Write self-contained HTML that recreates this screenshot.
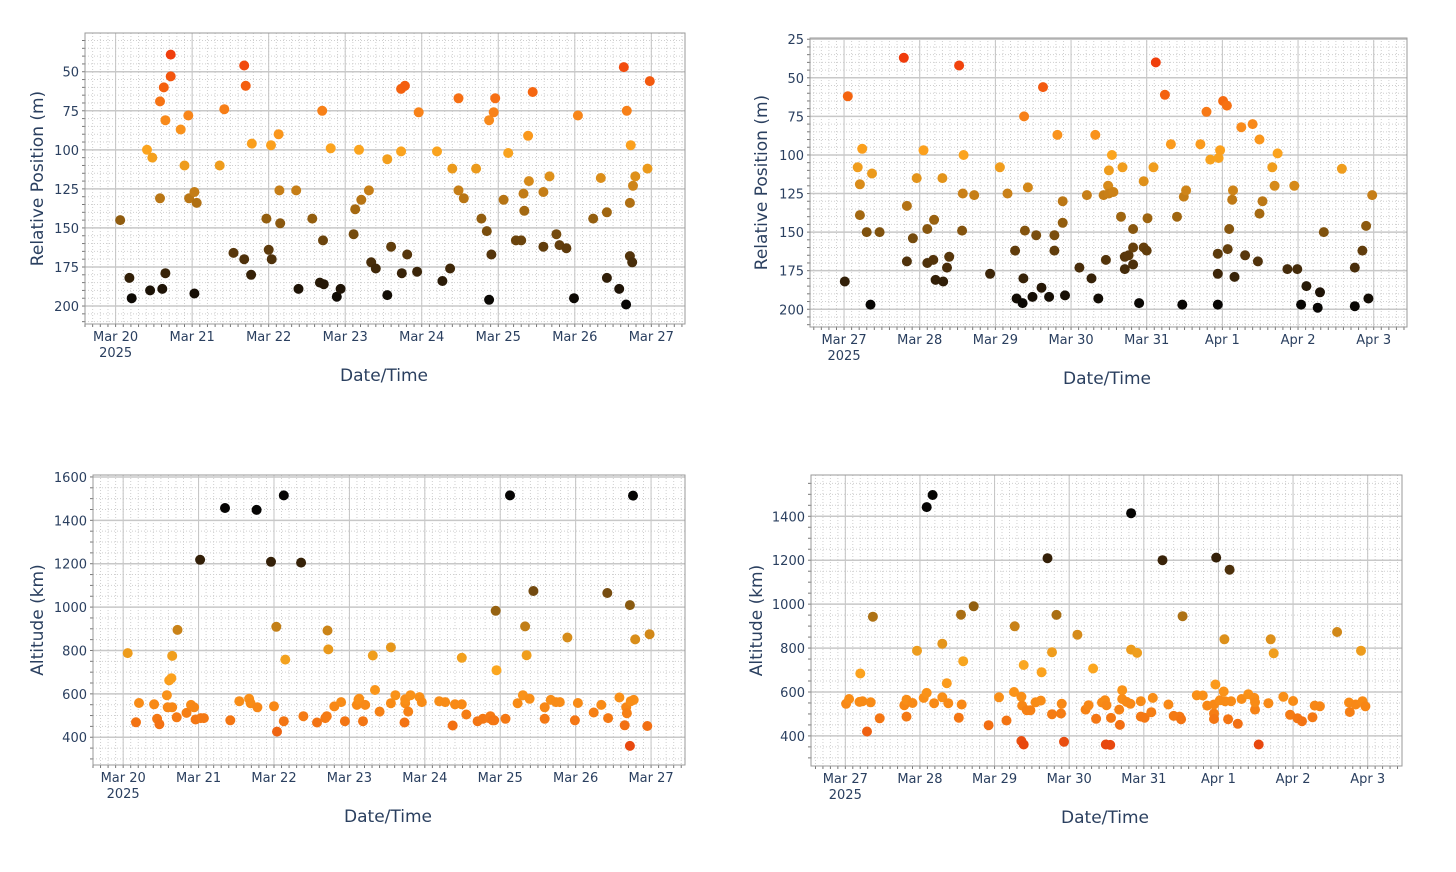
<!DOCTYPE html>
<html><head><meta charset="utf-8"><style>
html,body{margin:0;padding:0;background:#fff;}
svg{display:block;font-family:"DejaVu Sans","Liberation Sans",sans-serif;}
</style></head><body>
<svg id="chart" width="1456" height="872" viewBox="0 0 1456 872" xmlns="http://www.w3.org/2000/svg">
<rect width="1456" height="872" fill="#fff"/>
</svg>
<script>
// Panel 1: relative position, Mar 20 - Mar 27 (days since Mar 20)
const p1Days=[0.06,0.18,0.21,0.41,0.45,0.48,0.58,0.58,0.61,0.63,0.65,0.65,0.72,0.72,0.85,0.90,0.95,0.96,1.03,1.03,1.06,1.36,1.42,1.54,1.68,1.68,1.70,1.77,1.78,1.97,2.00,2.03,2.04,2.13,2.14,2.15,2.36,2.39,2.57,2.67,2.70,2.71,2.72,2.81,2.89,2.94,3.11,3.13,3.18,3.21,3.31,3.34,3.40,3.55,3.55,3.60,3.73,3.73,3.74,3.78,3.81,3.94,3.96,4.20,4.27,4.37,4.40,4.48,4.48,4.55,4.71,4.78,4.85,4.88,4.88,4.91,4.94,4.96,5.07,5.13,5.23,5.30,5.33,5.34,5.39,5.40,5.45,5.59,5.59,5.67,5.76,5.80,5.89,5.99,6.04,6.24,6.34,6.42,6.42,6.58,6.64,6.67,6.68,6.72,6.72,6.73,6.75,6.76,6.79,6.95,6.98];
const p1Vals=[145,182,195,100,190,105,69,131,189,60,179,81,53,39,87,110,78,131,127,192,134,110,74,166,170,46,59,180,96,144,164,97,170,90,126,147,126,189,144,185,75,158,186,99,194,189,154,138,100,132,126,172,176,106,193,162,61,101,179,59,167,178,76,101,184,176,112,67,126,131,112,144,152,81,196,167,76,67,132,102,158,158,128,139,91,120,63,127,162,117,154,161,163,195,78,144,118,140,182,189,47,199,75,134,168,97,172,123,117,112,56];
// Panel 2: relative position, Mar 27 - Apr 3 (days since Mar 27)
const p2Days=[0.01,0.05,0.18,0.21,0.21,0.24,0.30,0.35,0.37,0.47,0.79,0.83,0.83,0.91,1.05,1.10,1.10,1.18,0.96,1.19,1.21,1.30,1.31,1.36,1.39,1.52,1.56,1.57,1.58,1.72,1.93,2.06,2.16,2.26,2.28,2.36,2.37,2.38,2.39,2.43,2.49,2.54,2.61,2.63,2.71,2.78,2.78,2.82,2.89,2.89,2.92,3.11,3.21,3.27,3.32,3.36,3.43,3.46,3.49,3.50,3.50,3.54,3.56,3.66,3.68,3.71,3.71,3.76,3.82,3.82,3.82,3.90,3.96,3.96,4.00,4.01,4.09,4.12,4.24,4.32,4.40,4.47,4.49,4.52,4.71,4.79,4.84,4.94,4.94,4.94,4.95,4.97,5.01,5.06,5.07,5.09,5.13,5.14,5.16,5.25,5.30,5.40,5.47,5.49,5.49,5.53,5.66,5.69,5.73,5.86,5.95,5.99,6.04,6.11,6.26,6.29,6.34,6.58,6.75,6.75,6.85,6.90,6.93,6.98];
const p2Vals=[182,62,108,119,139,96,150,197,112,150,37,133,169,154,97,148,170,168,115,142,181,115,182,173,166,42,149,125,100,126,177,108,125,162,193,196,180,75,149,121,192,152,186,56,192,152,162,87,130,144,191,173,126,180,87,193,126,168,120,110,125,100,124,140,108,166,174,165,148,160,171,196,117,160,162,141,108,40,61,93,140,197,127,123,93,72,103,164,177,197,102,97,65,68,161,148,129,123,179,82,165,80,169,90,138,130,108,120,99,174,120,174,197,185,199,189,150,109,173,198,162,146,193,126];
// Panel 3: altitude, Mar 20 - Mar 27
const p3Days=[0.06,0.17,0.21,0.41,0.45,0.48,0.58,0.59,0.61,0.64,0.65,0.65,0.71,0.72,0.84,0.90,0.94,0.96,1.02,1.03,1.07,1.35,1.42,1.54,1.67,1.69,1.77,1.78,1.96,2.00,2.03,2.04,2.13,2.13,2.15,2.36,2.39,2.57,2.68,2.70,2.71,2.72,2.80,2.89,2.94,3.10,3.12,3.13,3.18,3.21,3.31,3.34,3.40,3.55,3.55,3.61,3.73,3.74,3.74,3.78,3.81,3.93,3.96,4.19,4.27,4.37,4.40,4.49,4.49,4.55,4.70,4.77,4.85,4.87,4.90,4.92,4.94,4.95,5.07,5.13,5.23,5.30,5.33,5.35,5.39,5.44,5.59,5.59,5.67,5.74,5.79,5.89,5.99,6.03,6.24,6.34,6.42,6.43,6.58,6.65,6.67,6.68,6.72,6.72,6.73,6.76,6.77,6.79,6.95,6.98];
const p3Vals=[788,469,558,552,485,460,594,538,662,672,538,775,492,895,512,549,538,482,1218,488,488,1457,478,566,577,557,1448,538,1209,543,909,426,1515,474,758,1205,497,468,488,497,892,805,542,562,474,549,574,577,474,549,777,618,518,814,557,594,468,557,575,518,594,585,562,566,562,454,552,552,766,505,474,485,488,497,478,478,983,709,485,1515,557,594,911,778,577,1074,485,538,572,562,562,860,478,558,514,549,1065,488,583,455,538,511,1009,360,566,1514,572,851,452,875];
// Panel 4: altitude, Mar 27 - Apr 3
const p4Days=[0.01,0.05,0.20,0.19,0.23,0.29,0.34,0.37,0.46,0.79,0.82,0.82,0.90,0.96,1.05,1.09,1.09,1.17,1.19,1.30,1.30,1.36,1.38,1.52,1.55,1.56,1.58,1.72,1.92,2.06,2.16,2.27,2.26,2.36,2.36,2.39,2.39,2.37,2.43,2.48,2.55,2.62,2.63,2.71,2.77,2.77,2.83,2.89,2.90,2.93,3.11,3.22,3.26,3.32,3.36,3.44,3.48,3.50,3.49,3.55,3.56,3.67,3.68,3.71,3.71,3.77,3.82,3.83,3.83,3.91,3.96,3.96,4.01,4.10,4.12,4.25,4.33,4.40,4.48,4.50,4.52,4.71,4.79,4.85,4.94,4.94,4.94,4.96,4.97,5.02,5.07,5.08,5.09,5.13,5.15,5.17,5.26,5.31,5.40,5.48,5.49,5.49,5.54,5.67,5.70,5.74,5.87,5.96,6.00,6.06,6.12,6.26,6.29,6.36,6.59,6.75,6.76,6.84,6.91,6.93,6.97];
const p4Vals=[546,568,684,555,558,420,553,943,480,540,565,488,550,788,573,1442,596,1497,549,820,576,640,549,483,952,543,740,990,449,576,470,899,600,578,377,361,723,538,517,517,553,561,690,1209,499,781,951,502,546,373,861,520,540,707,478,552,562,540,361,359,482,520,450,608,568,555,546,793,1414,778,558,488,483,508,573,1200,543,491,488,476,945,585,584,538,502,543,477,634,1212,562,602,840,558,476,1157,558,455,568,590,573,520,553,361,549,840,776,578,496,559,480,467,485,538,535,873,552,509,543,788,558,535];
const p1Ticks=[50,75,100,125,150,175,200];
const p2Ticks=[25,50,75,100,125,150,175,200];
const p3Ticks=[400,600,800,1000,1200,1400,1600];
const p4Ticks=[400,600,800,1000,1200,1400];
const dayLabels1=["Mar 20","Mar 21","Mar 22","Mar 23","Mar 24","Mar 25","Mar 26","Mar 27"];
const dayLabels2=["Mar 27","Mar 28","Mar 29","Mar 30","Mar 31","Apr 1","Apr 2","Apr 3"];

const NS="http://www.w3.org/2000/svg";
const svg=document.getElementById('chart');
function mk(tag,attrs,parent){const e=document.createElementNS(NS,tag);for(const k in attrs)e.setAttribute(k,attrs[k]);(parent||svg).appendChild(e);return e;}
function lerp(a,b,t){return a+(b-a)*t;}
function hex(c){return [parseInt(c.slice(1,3),16),parseInt(c.slice(3,5),16),parseInt(c.slice(5,7),16)];}
function colorAt(stops,v){
  if(v<=stops[0][0])return stops[0][1];
  for(let i=1;i<stops.length;i++){if(v<=stops[i][0]){const t=(v-stops[i-1][0])/(stops[i][0]-stops[i-1][0]);const a=hex(stops[i-1][1]),b=hex(stops[i][1]);return 'rgb('+Math.round(lerp(a[0],b[0],t))+','+Math.round(lerp(a[1],b[1],t))+','+Math.round(lerp(a[2],b[2],t))+')';}}
  return stops[stops.length-1][1];
}
const posStops=[[38,'#f03c0c'],[60,'#f4600e'],[78,'#f8861a'],[100,'#fba41e'],[112,'#eb9a1c'],[125,'#c98018'],[140,'#a06610'],[152,'#7a4e0e'],[165,'#5a380c'],[180,'#362208'],[197,'#080604']];
const altStops=[[360,'#e8480e'],[450,'#f26e12'],[550,'#f88a16'],[650,'#fb9c1c'],[720,'#fba820'],[800,'#eb9a1c'],[900,'#c88218'],[1000,'#8c5c10'],[1100,'#6a4410'],[1210,'#342008'],[1420,'#060504']];

function panel(o){
  const g=mk('g',{});
  
  
  const X=d=>o.L+(d-o.d0)/(o.d1-o.d0)*(o.R-o.L);
  const Y=v=>o.T+(v-o.v0)/(o.v1-o.v0)*(o.B-o.T);
  mk('rect',{x:o.L,y:o.T,width:o.R-o.L,height:o.B-o.T,fill:'#fff'},g);
  // minor grid
  const mg=mk('g',{stroke:'#cfcfcf','stroke-width':1,'stroke-dasharray':'1,2'},g);
  
  for(let d=Math.ceil(o.d0*10)/10;d<=o.d1;d+=0.1){const x=X(d);mk('line',{x1:x,x2:x,y1:o.T,y2:o.B},mg);}
  const vlo=Math.min(o.v0,o.v1),vhi=Math.max(o.v0,o.v1);
  for(let v=Math.ceil(vlo/o.minor)*o.minor;v<=vhi;v+=o.minor){const y=Y(v);mk('line',{x1:o.L,x2:o.R,y1:y,y2:y},mg);}
  // major grid
  const gg=mk('g',{stroke:'#c4c4c4','stroke-width':1},g);
  
  for(let i=0;i<o.labels.length;i++){const x=X(i);mk('line',{x1:x,x2:x,y1:o.T,y2:o.B},gg);}
  o.ticks.forEach(v=>{const y=Y(v);mk('line',{x1:o.L,x2:o.R,y1:y,y2:y,stroke:'#c8c8c8','stroke-width':1.5},gg);});
  // small outside ticks
  const tk=mk('g',{stroke:'#777','stroke-width':1},g);
  for(let d=Math.ceil(o.d0*10)/10;d<=o.d1;d+=0.1){const x=X(d);mk('line',{x1:x,x2:x,y1:o.B,y2:o.B+3},tk);}
  for(let v=Math.ceil(vlo/o.minor)*o.minor;v<=vhi;v+=o.minor){const y=Y(v);mk('line',{x1:o.L-3,x2:o.L,y1:y,y2:y},tk);}
  mk('rect',{x:o.L,y:o.T,width:o.R-o.L,height:o.B-o.T,fill:'none',stroke:'#999','stroke-width':1},g);
  // tick labels
  const ty=mk('g',{fill:'#2a3f5f','font-size':13,'text-anchor':'end'},g);
  
  o.ticks.forEach(v=>{const t=mk('text',{x:o.L-6,y:Y(v)+5},ty);t.textContent=v;});
  const tx=mk('g',{fill:'#2a3f5f','font-size':13,'text-anchor':'middle'},g);
  
  o.labels.forEach((s,i)=>{const t=mk('text',{x:X(i),y:o.B+17},tx);t.textContent=s;});
  const yr=mk('text',{x:X(0),y:o.B+33},tx);yr.textContent='2025';
  const xt=mk('text',{x:o.xtx,y:o.B+57,'font-size':17,fill:'#2a3f5f','text-anchor':'middle'},g);
  
  xt.textContent='Date/Time';
  const cy=(o.T+o.B)/2;
  const yt=mk('text',{x:o.ytx,y:cy,'font-size':17,fill:'#2a3f5f','text-anchor':'middle',transform:'rotate(-90 '+o.ytx+' '+cy+')'},g);
  
  yt.textContent=o.ytitle;
  // points
  const pg=mk('g',{},g);
  
  for(let i=0;i<o.days.length;i++){
    const c=mk('circle',{cx:X(o.days[i]).toFixed(1),cy:Y(o.vals[i]).toFixed(1),r:5,fill:colorAt(o.stops,o.vals[i])},pg);
    
    
  }
}
panel({name:'panel-position-mar20',L:85,R:685,T:33,B:324,d0:-0.40,d1:7.44,v0:25.2,v1:211.5,minor:5,ticks:p1Ticks,labels:dayLabels1,days:p1Days,vals:p1Vals,stops:posStops,ytitle:'Relative Position (m)',ytx:43,xtx:384});
panel({name:'panel-position-mar27',L:810,R:1407,T:38,B:327,d0:-0.45,d1:7.44,v0:24.2,v1:211.5,minor:5,ticks:p2Ticks,labels:dayLabels2,days:p2Days,vals:p2Vals,stops:posStops,ytitle:'Relative Position (m)',ytx:767,xtx:1107});
panel({name:'panel-altitude-mar20',L:93,R:685,T:475,B:765,d0:-0.40,d1:7.45,v0:1609,v1:272,minor:50,ticks:p3Ticks,labels:dayLabels1,days:p3Days,vals:p3Vals,stops:altStops,ytitle:'Altitude (km)',ytx:43,xtx:388});
panel({name:'panel-altitude-mar27',L:811,R:1402,T:475,B:766,d0:-0.46,d1:7.46,v0:1588,v1:263,minor:50,ticks:p4Ticks,labels:dayLabels2,days:p4Days,vals:p4Vals,stops:altStops,ytitle:'Altitude (km)',ytx:762,xtx:1105});
</script>
</body></html>
